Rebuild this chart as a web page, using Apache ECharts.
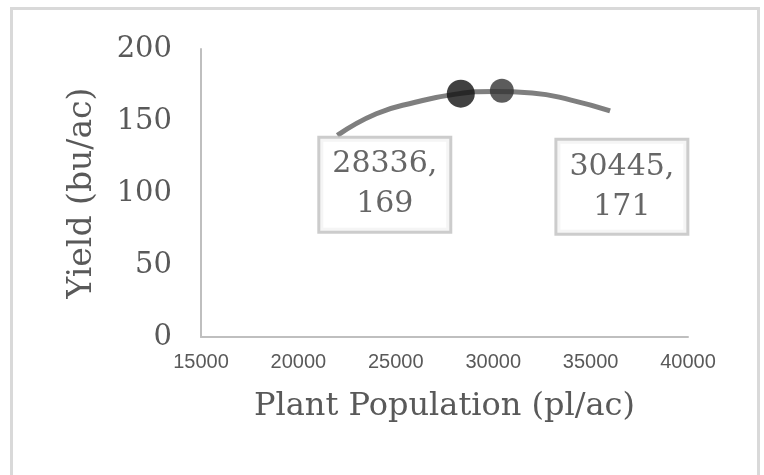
<!DOCTYPE html>
<html>
<head>
<meta charset="utf-8">
<script src="https://cdn.jsdelivr.net/npm/echarts@6/dist/echarts.min.js"></script>
<style>
  html, body { margin: 0; padding: 0; background: #fff; }
  #frame { position: absolute; left: 10px; top: 7px; width: 744px; height: 480px; border: 3px solid #d9d9d9; }
  #chart { position: absolute; left: 0; top: 0; width: 764px; height: 475px; }
</style>
</head>
<body>
<div id="frame"></div>
<div id="chart"></div>
<script>
// yield response curve
const curvePop = [22000, 24000, 26000, 28000, 30000, 32000, 34000, 36000];
const curveYield = [140, 155, 163, 168.5, 170.5, 169.5, 164.5, 157];

// highlighted points
const pointPop = [28336, 30445];
const pointYield = [169, 171];
const pointColors = ['#111111', '#333333'];
const pointSizes = [28, 24];
const labelOffsets = [[-76, 91], [120, 96]];

const serif = '"DejaVu Serif", "Liberation Serif", serif';

const chart = echarts.init(document.getElementById('chart'));

chart.setOption({
    animation: false,
    grid: { left: 201, right: 76, top: 49, bottom: 138 },
    xAxis: {
        type: 'value',
        min: 15000, max: 40000, interval: 5000,
        name: 'Plant Population (pl/ac)',
        nameLocation: 'middle',
        nameGap: 54,
        nameTextStyle: { fontFamily: serif, fontSize: 32, color: '#595959' },
        axisLine: { show: true, lineStyle: { color: '#bfbfbf', width: 2 } },
        axisTick: { show: false },
        splitLine: { show: false },
        axisLabel: {
            margin: 15,
            fontFamily: '"Liberation Sans", Arial, sans-serif',
            fontSize: 20,
            color: '#595959',
            formatter: (v) => String(v),
        },
    },
    yAxis: {
        type: 'value',
        min: 0, max: 200, interval: 50,
        name: 'Yield (bu/ac)',
        nameLocation: 'middle',
        nameGap: 102,
        nameTextStyle: { fontFamily: serif, fontSize: 33, color: '#595959' },
        axisLine: { show: true, lineStyle: { color: '#bfbfbf', width: 2 } },
        axisTick: { show: false },
        splitLine: { show: false },
        axisLabel: { margin: 29, fontFamily: serif, fontSize: 29, color: '#595959' },
    },
    series: [
        {
            type: 'line',
            smooth: true,
            showSymbol: false,
            lineStyle: { color: '#7f7f7f', width: 5 },
            data: curvePop.map((x, i) => [x, curveYield[i]]),
            z: 1,
        },
        {
            type: 'scatter',
            z: 3,
            data: pointPop.map((x, i) => ({
                value: [x, pointYield[i]],
                symbolSize: pointSizes[i],
                itemStyle: { color: pointColors[i] },
                label: {
                    show: true,
                    position: 'inside',
                    offset: labelOffsets[i],
                    formatter: x + ',\n' + pointYield[i],
                    fontFamily: serif,
                    fontSize: 30,
                    lineHeight: 40,
                    color: '#404040',
                    textBorderWidth: 0,
                    textBorderColor: 'transparent',
                    textShadowBlur: 0,
                    backgroundColor: '#fff',
                    borderColor: '#bfbfbf',
                    borderWidth: 3,
                    padding: [6, 12],
                },
            })),
        },
    ],
});
</script>
</body>
</html>
